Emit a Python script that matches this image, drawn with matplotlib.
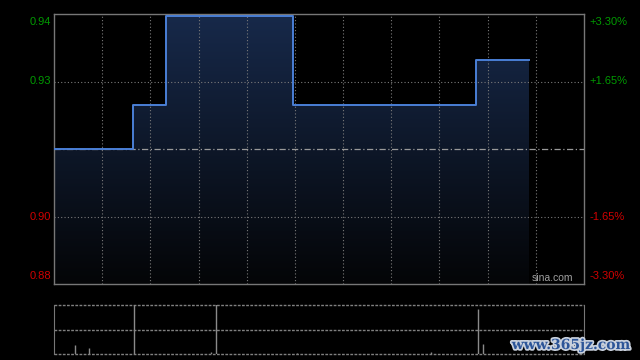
import numpy as np
import matplotlib
matplotlib.use("Agg")
import matplotlib.pyplot as plt
import matplotlib.patheffects as pe
from matplotlib.colors import LinearSegmentedColormap

# HK session: 9:30-12:00, 13:00-16:00 -> 330 minutes
prev_close = 0.91
step_minutes = [0, 49, 70, 149, 263, 296]
step_prices = [0.91, 0.92, 0.94, 0.92, 0.93, 0.93]

vol_minutes = [13, 22, 50, 98, 101, 151, 235, 264, 267]
vol_values = [9, 6, 52, 2, 52, 1, 2, 46, 10]

price_labels = ["0.94", "0.93", "0.90", "0.88"]
pct_labels = ["+3.30%", "+1.65%", "-1.65%", "-3.30%"]
label_colors = ["#009a00", "#009a00", "#d00000", "#d00000"]

plt.rcParams["font.family"] = ["Liberation Sans", "DejaVu Sans"]

fig = plt.figure(figsize=(6.4, 3.6), dpi=100, facecolor="black")
ax = fig.add_axes([54 / 640, 1 - 284 / 360, 530 / 640, 270 / 360])
axv = fig.add_axes([54 / 640, 1 - 354 / 360, 530 / 640, 49 / 360])

span = prev_close * 0.0335
ylo, yhi = prev_close - span, prev_close + span
for a in (ax, axv):
    a.set_facecolor("black")
    a.set_xlim(0, 330)
    a.set_xticks([])
    a.set_yticks([])
ax.set_ylim(ylo, yhi)

for s in ax.spines.values():
    s.set_color("#777777")
    s.set_linewidth(1)

# grid
for m in range(30, 330, 30):
    ax.axvline(m, color="#7a7a7a", lw=0.8, ls=(0, (1, 2)), zorder=3)
for lv in (prev_close + span / 2, prev_close - span / 2):
    ax.axhline(lv, color="#7a7a7a", lw=0.8, ls=(0, (1, 2)), zorder=3)
ax.axhline(prev_close, color="#9a9a9a", lw=0.9, ls=(0, (5, 2, 1, 2)), zorder=3)

# gradient fill under price
coll = ax.fill_between(step_minutes, step_prices, ylo, step="post",
                       facecolor="none", edgecolor="none")
cmap = LinearSegmentedColormap.from_list("g", ["#040507", "#17294a"])
im = ax.imshow(np.linspace(1, 0, 256).reshape(-1, 1), extent=[0, 330, ylo, yhi],
               aspect="auto", cmap=cmap, origin="upper", zorder=1)
im.set_clip_path(coll.get_paths()[0], transform=ax.transData)
ax.plot(step_minutes, step_prices, drawstyle="steps-post", color="#4a7fd6",
        lw=1.4, zorder=4)

# axis labels
label_y = [1.0, 0.75, 0.25, 0.0]
label_va = ["top", "center", "center", "bottom"]
for lab, pct, c, y, va in zip(price_labels, pct_labels, label_colors, label_y, label_va):
    yy = y - 0.012 if va == "top" else (y + 0.012 if va == "bottom" else y)
    ax.text(-0.006, yy, lab, transform=ax.transAxes, ha="right", va=va,
            color=c, fontsize=8)
    ax.text(1.011, yy, pct, transform=ax.transAxes, ha="left", va=va,
            color=c, fontsize=8)

ax.text(0.979, 0.004, "sina.com", transform=ax.transAxes, ha="right", va="bottom",
        color="#a0a0a0", fontsize=7.5, zorder=5)

# volume panel
vmax = 50
axv.set_ylim(0, vmax)
axv.spines["top"].set_visible(False)
axv.spines["bottom"].set_visible(False)
axv.spines["left"].set_color("#777777")
axv.spines["right"].set_color("#777777")
for lv in (0, vmax / 2, vmax):
    axv.axhline(lv, color="#808080", lw=1, ls=(0, (2, 1)), clip_on=False)
axv.vlines(vol_minutes, 0, vol_values, color="#8a8a8a", lw=1)

fig.text(571 / 640, 1 - 345 / 360, "www.365jz.com", ha="center", va="center",
         fontsize=10, family="DejaVu Serif", weight="bold", color="#2c5598",
         path_effects=[pe.withStroke(linewidth=2.5, foreground="#c8d0dc")])

fig.savefig("out.png", dpi=100, facecolor="black")
